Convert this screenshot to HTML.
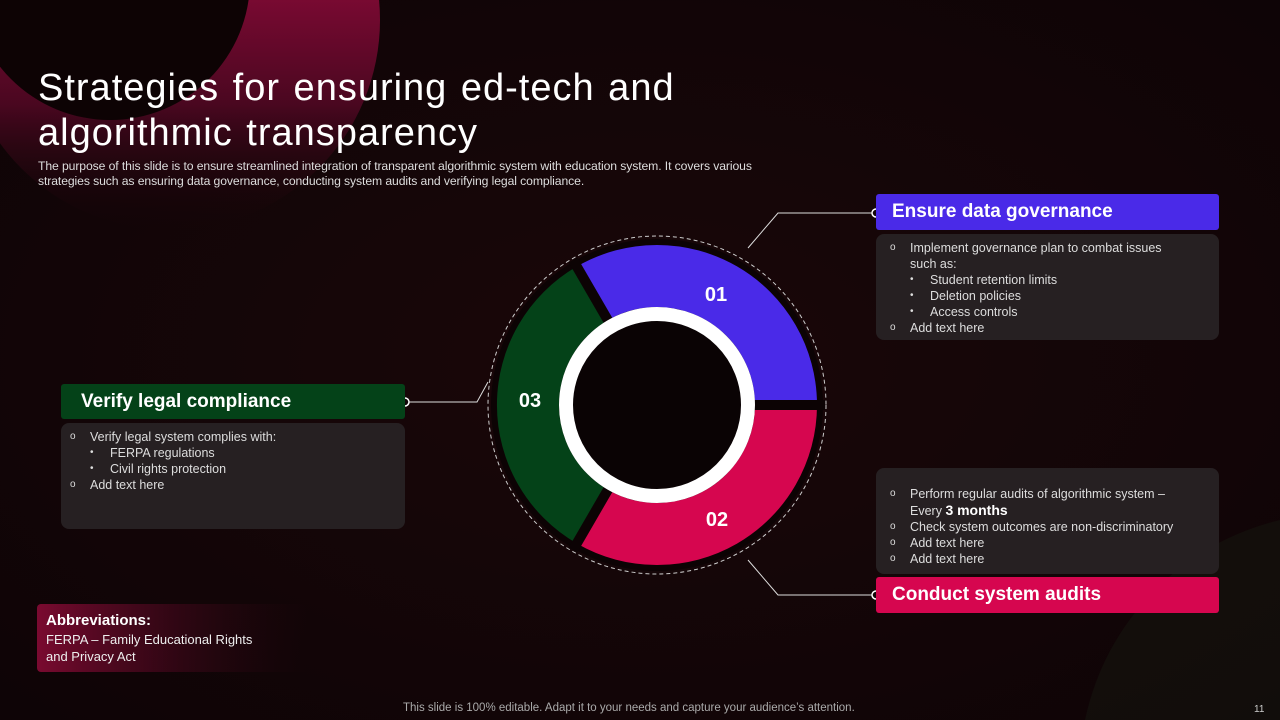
<!DOCTYPE html>
<html><head><meta charset="utf-8"><style>
body{margin:0;width:1280px;height:720px;overflow:hidden;background:#110507;font-family:"Liberation Sans",sans-serif;position:relative}
.a{position:absolute}
h1{position:absolute;left:38px;top:66px;margin:0;font-weight:normal;font-size:38px;line-height:45px;color:#fff;letter-spacing:1px;word-spacing:2px}
.sub{left:38px;top:159px;font-size:12.2px;line-height:15px;color:#ddd;letter-spacing:-0.1px;white-space:nowrap}
.hd{color:#fff;font-weight:bold;font-size:19px;line-height:36px;padding-left:20px;border-radius:3px;box-sizing:border-box}
.bx{background:#262022;border-radius:8px;color:#ddd;font-size:12.5px;line-height:16px;box-sizing:border-box}
.r{display:flex}.r .m{width:20px;flex:none;font-size:10px}
.r2{padding-left:20px}
</style></head><body>
<svg class="a" style="left:0;top:0" width="1280" height="720">
<defs>
<linearGradient id="g1" x1="0" y1="0" x2="0" y2="1"><stop offset="0" stop-color="#a00c42"/><stop offset="0.4" stop-color="#820a35"/><stop offset="0.7" stop-color="#4a0720"/><stop offset="1" stop-color="#160508" stop-opacity="0"/></linearGradient>
<radialGradient id="bg" cx="0.5" cy="0.5" r="0.7"><stop offset="0" stop-color="#1a0709"/><stop offset="1" stop-color="#0e0406"/></radialGradient>
<linearGradient id="g2" x1="0" y1="0" x2="1" y2="0"><stop offset="0" stop-color="#7a0a30"/><stop offset="1" stop-color="#2a0612" stop-opacity="0"/></linearGradient>
</defs>
<rect width="1280" height="720" fill="url(#bg)"/>
<circle cx="170" cy="20" r="210" fill="url(#g1)"/>
<circle cx="110" cy="-20" r="140" fill="#0d0304"/>
<path d="M1280,520 A260 260 0 0 0 1085,720 H1280 Z" fill="#1a2418" opacity="0.3"/>
<rect x="37" y="604" width="270" height="68" rx="4" fill="url(#g2)"/>
<g stroke="#ddd" fill="none" stroke-width="1">
<polyline points="876,213 778,213 748,248"/>
<polyline points="405,402 477,402 488,382"/>
<polyline points="876,595 778,595 748,560"/>
</g>
<circle cx="876" cy="213" r="4" fill="#110507" stroke="#fff" stroke-width="1.5"/>
<circle cx="876" cy="595" r="4" fill="#110507" stroke="#fff" stroke-width="1.5"/>
<circle cx="405" cy="402" r="4" fill="#110507" stroke="#fff" stroke-width="1.5"/>
<circle cx="657" cy="405" r="169" fill="none" stroke="#ccc" stroke-width="1" stroke-dasharray="4 3"/>
<circle cx="657" cy="405" r="166" fill="#0c0304"/>
<path d="M577,266.4 A160 160 0 0 1 817,405 L755,405 A98 98 0 0 0 608,320.1 Z" fill="#4a2ae8"/>
<path d="M817,405 A160 160 0 0 1 577,543.6 L608,489.9 A98 98 0 0 0 755,405 Z" fill="#d6064f"/>
<path d="M577,543.6 A160 160 0 0 1 577,266.4 L608,320.1 A98 98 0 0 0 608,489.9 Z" fill="#044218"/>
<g stroke="#0c0304" stroke-width="10">
<line x1="657" y1="405" x2="825" y2="405"/>
<line x1="657" y1="405" x2="573" y2="550"/>
<line x1="657" y1="405" x2="573" y2="260"/>
</g>
<circle cx="657" cy="405" r="91" fill="#0a0304" stroke="#fff" stroke-width="14"/>
<g fill="#fff" font-family="Liberation Sans,sans-serif" font-weight="bold" font-size="20" text-anchor="middle">
<text x="716" y="301">01</text><text x="717" y="526">02</text><text x="530" y="407">03</text>
</g>
</svg>
<h1>Strategies for ensuring ed-tech and<br>algorithmic transparency</h1>
<div class="a sub">The purpose of this slide is to ensure streamlined integration of transparent algorithmic system with education system. It covers various<br>strategies such as ensuring data governance, conducting system audits and verifying legal compliance.</div>

<div class="a hd" style="left:876px;top:194px;width:343px;height:36px;background:#4a2ae8;padding-left:16px">Ensure data governance</div>
<div class="a bx" style="left:876px;top:234px;width:343px;height:106px;padding:6px 14px 0 14px">
<div class="r"><span class="m">o</span><span>Implement governance plan to combat issues<br>such as:</span></div>
<div class="r2 r"><span class="m">•</span>Student retention limits</div>
<div class="r2 r"><span class="m">•</span>Deletion policies</div>
<div class="r2 r"><span class="m">•</span>Access controls</div>
<div class="r"><span class="m">o</span>Add text here</div>
</div>

<div class="a bx" style="left:876px;top:468px;width:343px;height:106px;padding:18px 14px 0 14px">
<div class="r"><span class="m">o</span><span>Perform regular audits of algorithmic system –<br>Every <b style="color:#fff;font-size:14px">3 months</b></span></div>
<div class="r"><span class="m">o</span>Check system outcomes are non-discriminatory</div>
<div class="r"><span class="m">o</span>Add text here</div>
<div class="r"><span class="m">o</span>Add text here</div>
</div>
<div class="a hd" style="left:876px;top:577px;width:343px;height:36px;background:#d6064f;padding-left:16px">Conduct system audits</div>

<div class="a hd" style="left:61px;top:384px;width:344px;height:35px;background:#044218;line-height:35px">Verify legal compliance</div>
<div class="a bx" style="left:61px;top:423px;width:344px;height:106px;padding:6px 9px 0 9px">
<div class="r"><span class="m">o</span>Verify legal system complies with:</div>
<div class="r2 r"><span class="m">•</span>FERPA regulations</div>
<div class="r2 r"><span class="m">•</span>Civil rights protection</div>
<div class="r"><span class="m">o</span>Add text here</div>
</div>

<div class="a" style="left:46px;top:612px;color:#fff;font-size:15px;font-weight:bold">Abbreviations:</div>
<div class="a" style="left:46px;top:631px;color:#eee;font-size:13px;line-height:17px">FERPA – Family Educational Rights<br>and Privacy Act</div>
<div class="a" style="left:403px;top:702px;color:#aaa;font-size:11.5px">This slide is 100% editable. Adapt it to your needs and capture your audience’s attention.</div>
<div class="a" style="left:1254px;top:704px;color:#ccc;font-size:10px">11</div>
</body></html>
